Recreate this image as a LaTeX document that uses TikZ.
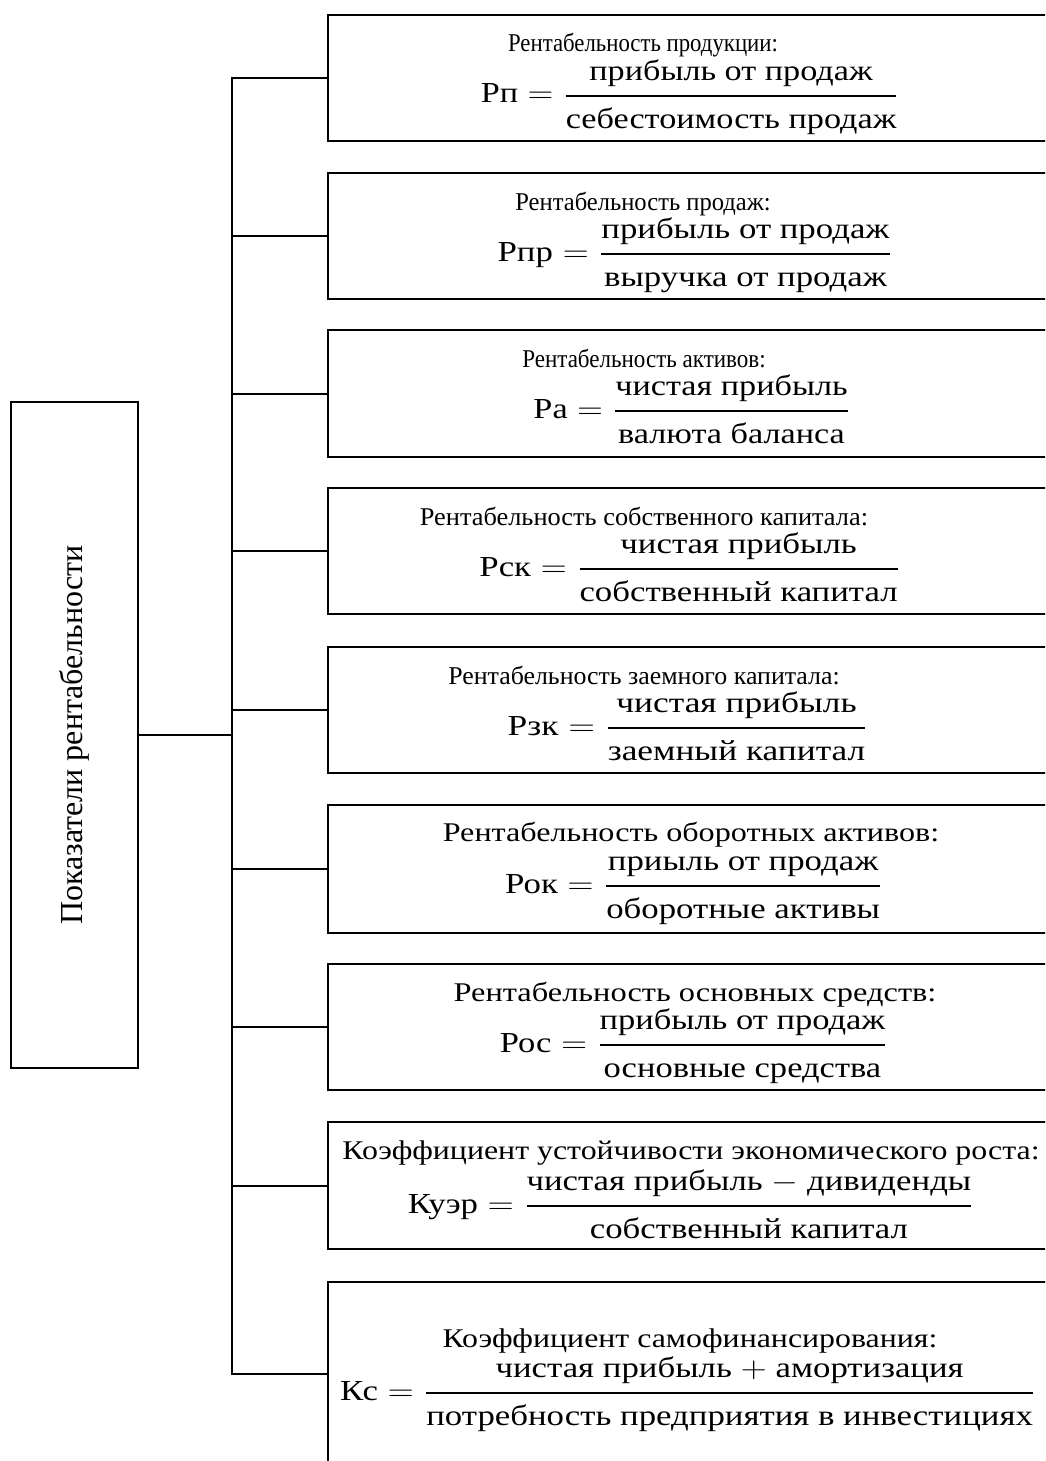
\documentclass[tikz,border=0pt]{standalone}
\usepackage{amsmath}
\usepackage{graphicx}
\usepackage{fontspec}
\setmainfont{Liberation Serif}
% label = fraction (numerator and denominator in text mode), widened by #4
\newcommand{\ratioformula}[4]{\scalebox{#4}[1]{$\displaystyle\text{#1} = \genfrac{}{}{1pt}{0}{\raisebox{1.5pt}{#2}}{\raisebox{-3pt}{#3}}$}}
\begin{document}
\begin{tikzpicture}[x=0.5pt,y=-0.5pt,
  frame/.style={draw,line width=1pt,inner sep=0pt,outer sep=0pt,rectangle},
  item/.style={frame,anchor=north west,minimum width=366pt},
  link/.style={line width=1pt},
  title/.style={anchor=base,inner sep=0pt,font=\fontsize{12.8}{14}\selectfont},
  bigtitle/.style={title,font=\fontsize{13.5}{15}\selectfont},
  formula/.style={anchor=base,inner sep=0pt,font=\fontsize{14.5}{16}\selectfont}]
\useasboundingbox (0,0) rectangle (1045,1461);
\clip (0,0) rectangle (1045,1461);

% root box with vertical caption
\node[frame,rotate=90,minimum width=333pt,minimum height=63.5pt,
      font=\fontsize{16}{18}\selectfont] (root) at (74.5,735) {Показатели рентабельности};

% indicator boxes
\node[item,minimum height=63pt] (b1) at (328,15) {};
\node[item,minimum height=63pt] (b2) at (328,173) {};
\node[item,minimum height=63.5pt] (b3) at (328,330) {};
\node[item,minimum height=63pt] (b4) at (328,488) {};
\node[item,minimum height=63pt] (b5) at (328,647) {};
\node[item,minimum height=64pt] (b6) at (328,805) {};
\node[item,minimum height=63pt] (b7) at (328,964) {};
\node[item,minimum height=63.5pt] (b8) at (328,1122) {};
\node[item,minimum height=92pt] (b9) at (328,1282) {};

% connectors
\coordinate (hub) at (232,735);
\draw[line width=1.4pt] (root.south) -- (hub);
\foreach \n in {1,...,9} \draw[link] (hub) |- (b\n.west);

% titles
\node[title] (t1) at (643,52) {\scalebox{0.89}[1]{Рентабельность продукции:}};
\node[title] (t2) at (643,210) {\scalebox{0.96}[1]{Рентабельность продаж:}};
\node[title] (t3) at (644,367) {\scalebox{0.90}[1]{Рентабельность активов:}};
\node[title] (t4) at (644,525) {\scalebox{1.03}[1]{Рентабельность собственного капитала:}};
\node[title] (t5) at (644,684) {\scalebox{1.01}[1]{Рентабельность заемного капитала:}};
\node[bigtitle] (t6) at (691,841) {\scalebox{1.19}[1]{Рентабельность оборотных активов:}};
\node[bigtitle] (t7) at (695,1001) {\scalebox{1.2}[1]{Рентабельность основных средств:}};
\node[bigtitle] (t8) at (691,1159) {\scalebox{1.18}[1]{Коэффициент устойчивости экономического роста:}};
\node[bigtitle] (t9) at (690,1347) {\scalebox{1.18}[1]{Коэффициент самофинансирования:}};

% formulas
\node[formula] (f1) at (690,103) {\ratioformula{Рп}{прибыль от продаж}{себестоимость продаж}{1.18}};
\node[formula] (f2) at (695,261) {\ratioformula{Рпр}{прибыль от продаж}{выручка от продаж}{1.2}};
\node[formula] (f3) at (692,418) {\ratioformula{Ра}{чистая прибыль}{валюта баланса}{1.18}};
\node[formula] (f4) at (690,576) {\ratioformula{Рск}{чистая прибыль}{собственный капитал}{1.2}};
\node[formula] (f5) at (688,735) {\ratioformula{Рзк}{чистая прибыль}{заемный капитал}{1.22}};
\node[formula] (f6) at (694,893) {\ratioformula{Рок}{приыль от продаж}{оборотные активы}{1.2}};
\node[formula] (f7) at (694,1052) {\ratioformula{Рос}{прибыль от продаж}{основные средства}{1.19}};
\node[formula] (f8) at (691,1213) {\ratioformula{Куэр}{чистая прибыль $-$ дивиденды}{собственный капитал}{1.2}};
\node[formula] (f9) at (688,1400) {\ratioformula{Кс}{чистая прибыль $+$ амортизация}{потребность предприятия в инвестициях}{1.2}};
\end{tikzpicture}
\end{document}
